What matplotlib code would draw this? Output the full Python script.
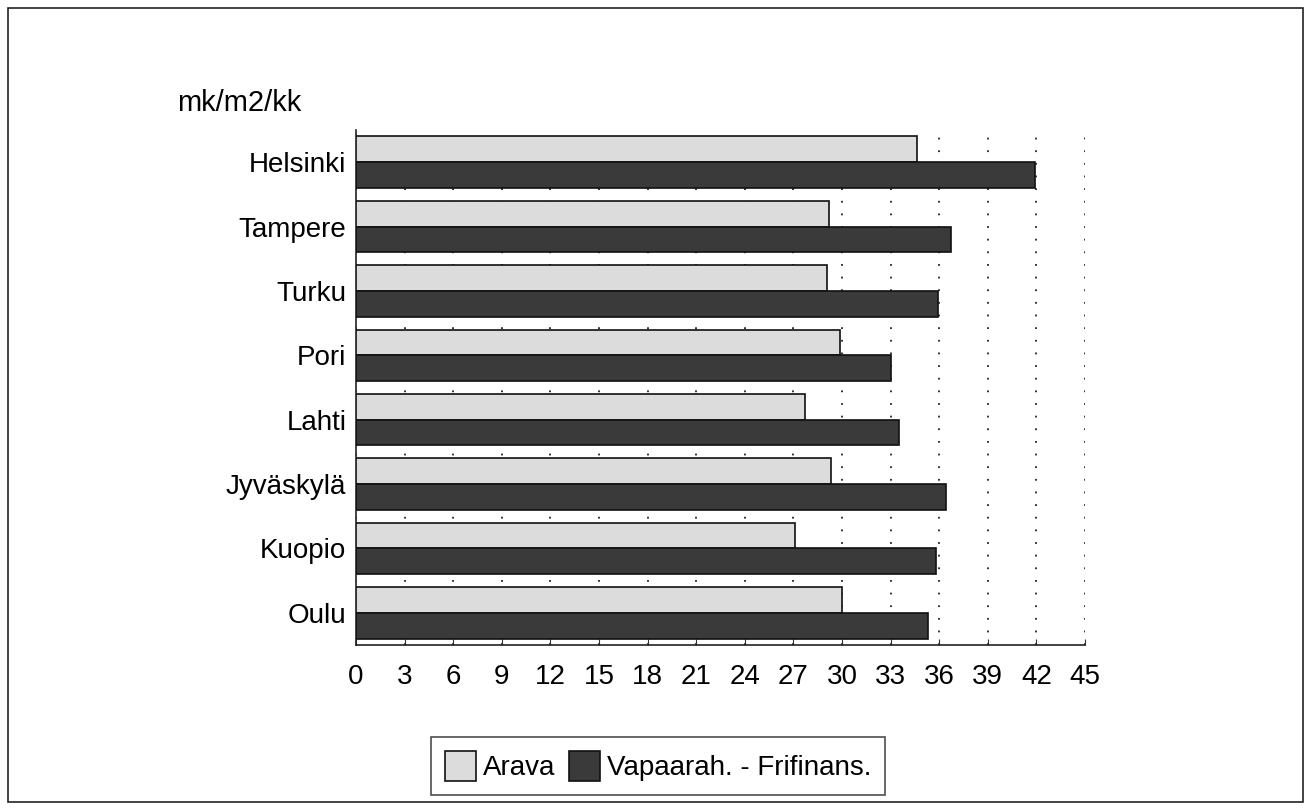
import matplotlib.pyplot as plt
import numpy as np
from matplotlib.patches import Rectangle

cities = ['Helsinki', 'Tampere', 'Turku', 'Pori', 'Lahti', 'Jyväskylä', 'Kuopio', 'Oulu']
arava = [34.6, 29.2, 29.1, 29.9, 27.7, 29.3, 27.1, 30.0]
vapaa = [41.9, 36.7, 35.9, 33.0, 33.5, 36.4, 35.8, 35.3]
xticks = list(range(0, 46, 3))

plt.rcParams['font.family'] = ['Liberation Sans', 'DejaVu Sans']

fig = plt.figure(figsize=(13.11, 8.1), dpi=100)
ax = fig.add_axes([0.2716, 0.2037, 0.5560, 0.6358])

y = np.arange(len(cities))
h = 0.4
b1 = ax.barh(y - h/2, arava, height=h, color='#dcdcdc', edgecolor='#111111', linewidth=1.2, label='Arava', zorder=3)
b2 = ax.barh(y + h/2, vapaa, height=h, color='#3a3a3a', edgecolor='#111111', linewidth=1.2,
             label='Vapaarah. - Frifinans.', zorder=3)

ax.set_xlim(0, 45)
ax.set_ylim(len(cities) - 0.5, -0.5)
ax.set_xticks(xticks)
ax.set_xticklabels([str(t) for t in xticks], fontsize=20)
ax.set_yticks(y)
ax.set_yticklabels(cities, fontsize=20)
ax.tick_params(axis='y', length=0, pad=7)
ax.tick_params(axis='x', direction='in', length=4, pad=14, color='#333333')
ax.xaxis.grid(True, color='#222222', linestyle=(0, (1, 6)), linewidth=1.3)
ax.set_axisbelow(True)
for s in ['top', 'right']:
    ax.spines[s].set_visible(False)
for s in ['left', 'bottom']:
    ax.spines[s].set_color('#222222')
    ax.spines[s].set_linewidth(1.2)

fig.text(177 / 1311, 1 - 103 / 810, 'mk/m2/kk', fontsize=21, ha='left', va='center')

leg = fig.legend(handles=[b1, b2], loc='center', bbox_to_anchor=(0.502, 0.054), ncol=2,
                 fontsize=20, frameon=True, fancybox=False, edgecolor='#222222',
                 handlelength=1.1, handleheight=1.3, handletextpad=0.25, columnspacing=0.5,
                 borderpad=0.5, borderaxespad=0)
leg.get_frame().set_linewidth(1.2)

fig.patches.append(Rectangle((8 / 1311, 8 / 810), 1295 / 1311, 794 / 810, transform=fig.transFigure,
                             fill=False, edgecolor='#222222', linewidth=1.2))

fig.savefig('out.png', dpi=100)
